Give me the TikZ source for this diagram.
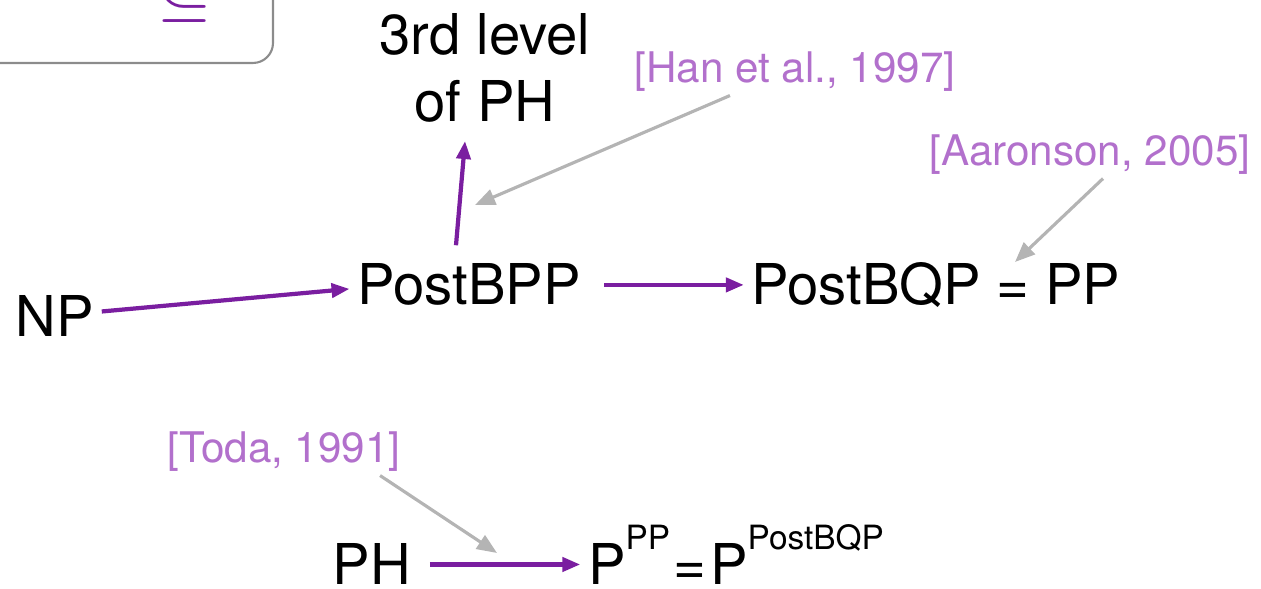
\documentclass[tikz,border=0pt]{standalone}
\usepackage{fontspec}
\setmainfont{TeX Gyre Heros}
\usetikzlibrary{arrows.meta}
\definecolor{arrpurple}{RGB}{122,30,160}
\definecolor{citepurple}{RGB}{178,112,204}
\definecolor{citegray}{RGB}{180,180,180}
\definecolor{boxgray}{RGB}{140,140,140}
\newcommand\supt[1]{\raisebox{10pt}{\fontsize{9.5}{10}\selectfont #1}}
\begin{document}
\begin{tikzpicture}[x=0.01cm,y=-0.01cm,
  cls/.style={font=\fontsize{16}{19}\selectfont, inner sep=0.07cm, anchor=base},
  cite/.style={font=\fontsize{12}{14}\selectfont, text=citepurple, inner sep=0.03cm, anchor=center},
  imp/.style={draw=arrpurple, line width=1.2pt, -{Triangle[length=0.18cm,width=0.14cm]}},
  ref/.style={draw=citegray, line width=0.9pt, -{Triangle[length=0.2cm,width=0.16cm]}}]
\clip (0,0) rectangle (1261,589);
\draw[boxgray, line width=0.6pt, rounded corners=0.2cm] (-30,-60) rectangle (273,63);
\node[text=arrpurple, font=\fontsize{22}{22}\selectfont, inner sep=0pt, anchor=south] (sub) at (184,23) {$\subseteq$};

\node[cls, anchor=center, align=center] (lvl) at (485,68) {3rd level\\of PH};
\node[cls] (NP) at (55,337) {NP};
\node[cls] (PostBPP) at (469,305) {PostBPP};
\node[cls] (PostBQP) at (936,305) {PostBQP = PP};
\node[cls] (PH) at (372,585) {PH};
\node[cls] (Ppp) at (736,585) {P\supt{PP}\kern1pt=\kern1ptP\supt{PostBQP}};

\node[cite] (Han) at (795,72) {[Han et al., 1997]};
\node[cite] (Aar) at (1090,155) {[Aaronson, 2005]};
\node[cite] (Toda) at (284,452) {[Toda, 1991]};

\draw[imp] ([yshift=0.05cm]NP.east) -- ([yshift=-0.04cm]PostBPP.west);
\draw[imp, shorten >=0.11cm] ([xshift=-0.13cm, yshift=0.11cm]PostBPP.north) -- ([xshift=-0.19cm]lvl.south);
\draw[imp, shorten <=0.16cm] (PostBPP.east) -- (PostBPP.east -| PostBQP.west);
\draw[imp, shorten <=0.11cm] (PH.east) -- (PH.east -| Ppp.west);

\coordinate (hanT) at (475,205);
\coordinate (aarT) at (1015,262);
\coordinate (todaT) at (497,553);
\draw[ref] ([xshift=-0.65cm]Han.south) -- (hanT);
\draw[ref] ([xshift=0.13cm]Aar.south) -- (aarT);
\draw[ref] ([xshift=0.96cm]Toda.south) -- (todaT);
\end{tikzpicture}
\end{document}
